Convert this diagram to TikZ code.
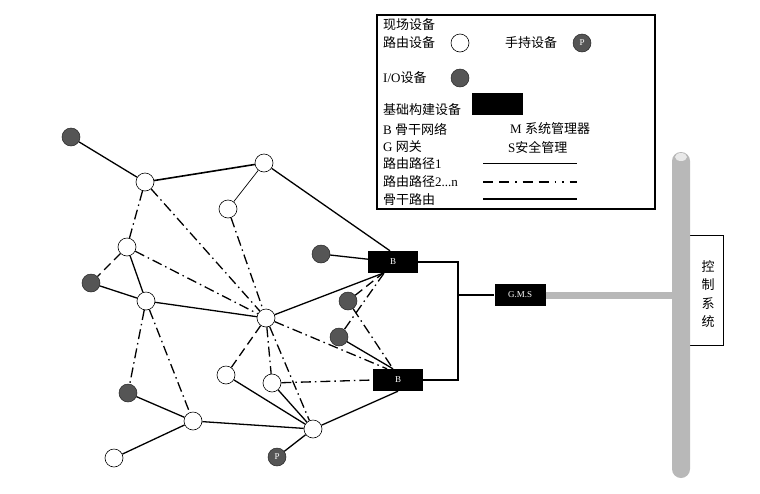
\documentclass[tikz,border=0pt]{standalone}
\usepackage{fontspec}
\setmainfont{Liberation Serif}
\newfontfamily\cjk{Noto Sans CJK SC}
\definecolor{iogray}{RGB}{85,85,85}
\definecolor{bargray}{RGB}{184,184,184}
\begin{document}
\begin{tikzpicture}[x=1pt,y=-1pt,
 rnode/.style={circle,draw=black,line width=0.6pt,fill=white,minimum size=18pt,inner sep=0pt},
 ionode/.style={circle,draw=black!85,line width=0.5pt,fill=iogray,minimum size=18pt,inner sep=0pt,text=white,font=\fontsize{9}{9}\selectfont},
 bbox/.style={fill=black,text=white,minimum width=50pt,minimum height=22pt,inner sep=0pt,font=\fontsize{9}{10}\selectfont},
 sol/.style={line width=1.3pt},
 thinl/.style={line width=0.7pt},
 dd/.style={line width=1.3pt,dash pattern=on 10pt off 4pt on 1.5pt off 4pt},
 dsh/.style={line width=1.3pt,dash pattern=on 9pt off 5pt},
 bb/.style={line width=2pt},
 lt/.style={anchor=west,inner sep=0pt,font=\fontsize{13}{15}\selectfont},
]
\useasboundingbox (0,0) rectangle (760,493);
\fill[white] (0,0) rectangle (760,493);

% legend
\draw[line width=1.2pt] (377,15) rectangle (655,209);
\node[lt] (l1) at (383,25) {\cjk 现场设备};
\node[lt] (l2) at (383,43) {\cjk 路由设备};
\node[rnode] (lr) at (460,43) {};
\node[lt] (l3) at (505,43) {\cjk 手持设备};
\node[ionode] (lp) at (582,43) {P};
\node[lt] (l4) at (383,78) {I/O{\cjk 设备}};
\node[ionode] (lio) at (460,78) {};
\node[lt] (l5) at (383,110) {\cjk 基础构建设备};
\node[fill=black,minimum width=51pt,minimum height=22pt,inner sep=0pt] (lb) at (497.5,104) {};
\node[lt] (l6) at (383,129) {B {\cjk 骨干网络}};
\node[lt] (l7) at (510,129) {M {\cjk 系统管理器}};
\node[lt] (l8) at (383,147) {G {\cjk 网关}};
\node[lt] (l9) at (508,147) {S{\cjk 安全管理}};
\node[lt] (l10) at (383,164) {{\cjk 路由路径}1};
\node[lt] (l11) at (383,182) {{\cjk 路由路径}2...n};
\node[lt] (l12) at (383,200) {\cjk 骨干路由};
\coordinate (s1a) at (483,163); \coordinate (s1b) at (577,163);
\coordinate (s2a) at (483,182); \coordinate (s2b) at (577,182);
\coordinate (s3a) at (483,199); \coordinate (s3b) at (577,199);
\draw[line width=1pt] (s1a) -- (s1b);
\draw[line width=1.6pt,dash pattern=on 10pt off 6pt on 10pt off 6pt on 1.5pt off 6pt on 10pt off 6pt on 10pt off 6pt on 1.5pt off 6pt on 1.5pt off 6pt] (s2a) -- (s2b);
\draw[line width=2.2pt] (s3a) -- (s3b);

% control system
\node[draw,line width=0.7pt,minimum width=35pt,minimum height=110pt,inner sep=0pt] (cbox) at (705.5,290) {};
\node[rounded corners=9pt,fill=bargray,minimum width=18pt,minimum height=326pt,inner sep=0pt] (bar) at (681,315) {};
\fill[white,opacity=0.7] (681,157) ellipse (6pt and 4pt);
\node[align=center,inner sep=0pt,font=\fontsize{13}{18.5}\selectfont] (ctext) at (708,294) {\cjk 控\\\cjk 制\\\cjk 系\\\cjk 统};

% network nodes
\node[ionode] (IO1) at (71,137) {};
\node[rnode] (R1) at (145,182) {};
\node[rnode] (R2) at (264,163) {};
\node[rnode] (R3) at (228,209) {};
\node[rnode] (R4) at (127,247) {};
\node[ionode] (IO2) at (91,283) {};
\node[rnode] (R5) at (146,301) {};
\node[rnode] (R6) at (266,318) {};
\node[rnode] (R7) at (226,375) {};
\node[rnode] (R8) at (272,383) {};
\node[ionode] (IO3) at (128,393) {};
\node[rnode] (R9) at (193,421) {};
\node[rnode] (R10) at (313,429) {};
\node[rnode] (R11) at (114,458) {};
\node[ionode] (P1) at (277,457) {P};
\node[ionode] (IO4) at (348,301) {};
\node[ionode] (IO5) at (339,337) {};
\node[ionode] (IO6) at (321,254) {};
\node[bbox] (B1) at (393,262) {B};
\node[bbox] (B2) at (398,380) {B};
\node[bbox,minimum width=51pt] (GMS) at (520,295) {G.M.S};

% solid routes
\draw[sol] (IO1) -- (R1);
\draw[line width=1.6pt] (R1) -- (R2);
\draw[sol] (R2) -- ([xshift=-3pt]B1.north);
\draw[thinl] (R2) -- (R3);
\draw[sol] (IO6) -- (B1);
\draw[sol] (R4) -- (R5);
\draw[sol] (IO2) -- (R5);
\draw[sol] (R5) -- (R6);
\draw[sol] (R6) -- ([xshift=-10pt]B1.south);
\draw[sol] (IO3) -- (R9);
\draw[sol] (R9) -- (R11);
\draw[sol] (R9) -- (R10);
\draw[sol] (R7) -- (R10);
\draw[sol] (R8) -- (R10);
\draw[sol] (R10) -- (P1);
\draw[sol] (R10) -- (B2.south);
\draw[sol] (IO5) -- ([xshift=-5pt]B2.north);

% dash-dot routes
\draw[dd] (R1) -- (R4);
\draw[dd] (R1) -- (R6);
\draw[dd] (R3) -- (R6);
\draw[dd] (R4) -- (R6);
\draw[dd] (R5) -- (IO3);
\draw[dd] (R5) -- (R9);
\draw[dd] (R6) -- (R8);
\draw[dd] (R6) -- (R10);
\draw[dd] (R6) -- ([xshift=-11pt]B2.north);
\draw[dd] (R8) -- (B2.west);
\draw[dd] ([xshift=-9pt]B1.south) -- (IO5);
\draw[dd] (IO4) -- ([xshift=-5pt]B2.north);
% dashed routes
\draw[dsh] (R4) -- (IO2);
\draw[dsh] (R6) -- (R7);
\draw[dsh] (IO4) -- ([xshift=-10pt]B1.south);

% backbone
\coordinate (brk) at (458,295);
\draw[bb] (B1.east) -| (brk) |- (B2.east);
\draw[bb] (brk) -- (GMS.west);
\draw[bargray,line width=7pt] (GMS.east) -- (GMS.east -| bar.west);
\end{tikzpicture}
\end{document}
